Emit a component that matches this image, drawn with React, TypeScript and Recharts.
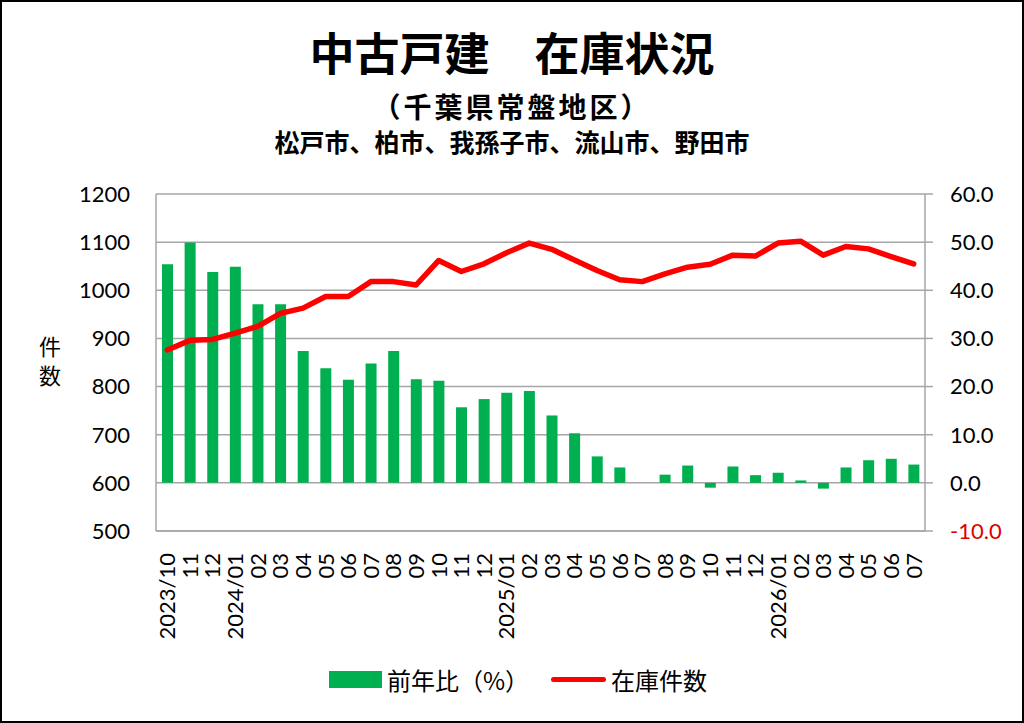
import {
  Bar,
  CartesianGrid,
  ComposedChart,
  Legend,
  Line,
  XAxis,
  YAxis,
} from "recharts";

const months = [
  "2023/10", "2023/11", "2023/12",
  "2024/01", "2024/02", "2024/03", "2024/04", "2024/05", "2024/06",
  "2024/07", "2024/08", "2024/09", "2024/10", "2024/11", "2024/12",
  "2025/01", "2025/02", "2025/03", "2025/04", "2025/05", "2025/06",
  "2025/07", "2025/08", "2025/09", "2025/10", "2025/11", "2025/12",
  "2026/01", "2026/02", "2026/03", "2026/04", "2026/05", "2026/06", "2026/07",
];

const tickLabels = [
  "2023/10", "11", "12",
  "2024/01", "02", "03", "04", "05", "06", "07", "08", "09", "10", "11", "12",
  "2025/01", "02", "03", "04", "05", "06", "07", "08", "09", "10", "11", "12",
  "2026/01", "02", "03", "04", "05", "06", "07",
];

// 前年比(%)
const yoy = [
  45.4, 49.9, 43.8, 44.9, 37.1, 37.1, 27.4, 23.8, 21.4, 24.8, 27.4, 21.5,
  21.2, 15.7, 17.4, 18.7, 19.1, 14.0, 10.3, 5.5, 3.2, 0, 1.7, 3.6, -1.0,
  3.4, 1.6, 2.1, 0.5, -1.2, 3.2, 4.7, 5.0, 3.8,
];

// 在庫件数
const inventory = [
  876, 896, 898, 911, 925, 952, 963, 987, 987, 1018, 1018, 1011, 1062,
  1039, 1055, 1078, 1098, 1085, 1063, 1041, 1022, 1018, 1034, 1048, 1054,
  1073, 1071, 1098, 1102, 1073, 1091, 1086, 1070, 1055,
];

const leftTicks = [500, 600, 700, 800, 900, 1000, 1100, 1200];
const rightTicks = [-10, 0, 10, 20, 30, 40, 50, 60];

const data = months.map((m, i) => ({
  month: m,
  label: tickLabels[i],
  yoy: yoy[i],
  inventory: inventory[i],
}));

const GREEN = "#00B050";
const RED = "#FF0000";
const GRID = "#A6A6A6";
const NUM_FONT = "Lato, 'Noto Sans', sans-serif";
const JP_FONT = "'Noto Sans CJK JP', sans-serif";

function MonthTick(props: any) {
  const { x, y, index } = props;
  return (
    <text
      x={x}
      y={y + 14}
      transform={`rotate(-90, ${x}, ${y + 14})`}
      textAnchor="end"
      dy="0.36em"
      fontSize={22}
      fontFamily={NUM_FONT}
      fill="#000"
    >
      {tickLabels[index]}
    </text>
  );
}

function RightTick(props: any) {
  const { x, y, payload } = props;
  const v = payload.value as number;
  return (
    <text
      x={x}
      y={y}
      dy="0.36em"
      textAnchor="start"
      fontSize={22}
      fontFamily={NUM_FONT}
      fill={v < 0 ? "#E00000" : "#000"}
    >
      {v.toFixed(1)}
    </text>
  );
}

function AxisTitle() {
  return (
    <g fontSize={22} fontFamily={JP_FONT} fill="#000">
      <text x={50} y={355} textAnchor="middle">件</text>
      <text x={50} y={384} textAnchor="middle">数</text>
    </g>
  );
}

function LegendBox() {
  return (
    <div
      style={{
        display: "flex",
        justifyContent: "center",
        alignItems: "center",
        height: 34,
        fontFamily: JP_FONT,
        fontSize: 24,
        color: "#000",
      }}
    >
      <span
        style={{ display: "inline-block", width: 53, height: 17, background: GREEN, marginRight: 5 }}
      />
      <span>前年比（%）</span>
      <span
        style={{
          display: "inline-block",
          width: 55,
          height: 5,
          background: RED,
          borderRadius: 3,
          marginLeft: 22,
          marginRight: 5,
        }}
      />
      <span>在庫件数</span>
    </div>
  );
}

export default function App() {
  return (
    <div style={{ position: "relative", width: 1024, height: 723, background: "#fff" }}>
      <style>{`body{margin:0}`}</style>
      <div
        style={{
          position: "absolute",
          top: 28,
          left: 0,
          width: 1024,
          textAlign: "center",
          fontFamily: JP_FONT,
          fontWeight: 700,
          fontSize: 45,
          lineHeight: "48px",
        }}
      >
        中古戸建　在庫状況
      </div>
      <div
        style={{
          position: "absolute",
          top: 90,
          left: 0,
          width: 1024,
          textAlign: "center",
          fontFamily: JP_FONT,
          fontWeight: 700,
          fontSize: 28,
          letterSpacing: 3,
          lineHeight: "32px",
        }}
      >
        （千葉県常盤地区）
      </div>
      <div
        style={{
          position: "absolute",
          top: 126,
          left: 0,
          width: 1024,
          textAlign: "center",
          fontFamily: JP_FONT,
          fontWeight: 700,
          fontSize: 25,
          lineHeight: "30px",
        }}
      >
        松戸市、柏市、我孫子市、流山市、野田市
      </div>
      <ComposedChart
        width={1024}
        height={723}
        data={data}
        margin={{ top: 194, right: 9, bottom: 92, left: 6 }}
        style={{ position: "absolute", top: 0, left: 0 }}
      >
        <CartesianGrid
          yAxisId="left"
          vertical={false}
          stroke={GRID}
          strokeWidth={1.5}
        />
        <XAxis
          dataKey="month"
          interval={0}
          height={100}
          tickLine={false}
          axisLine={{ stroke: GRID, strokeWidth: 1.5 }}
          tick={<MonthTick />}
        />
        <YAxis
          yAxisId="left"
          orientation="left"
          width={150}
          domain={[500, 1200]}
          ticks={leftTicks}
          tickLine={false}
          tickSize={6}
          tickMargin={20}
          axisLine={{ stroke: GRID, strokeWidth: 1.5 }}
          tick={{ fontSize: 22, fontFamily: NUM_FONT, fill: "#000" }}
          label={<AxisTitle />}
        />
        <YAxis
          yAxisId="right"
          orientation="right"
          width={90}
          domain={[-10, 60]}
          ticks={rightTicks}
          tickSize={8}
          tickMargin={17}
          tickLine={{ stroke: GRID, strokeWidth: 1.5 }}
          axisLine={{ stroke: GRID, strokeWidth: 1.5 }}
          tick={<RightTick />}
        />
        <Legend
          layout="horizontal"
          verticalAlign="middle"
          align="center"
          content={<LegendBox />}
          wrapperStyle={{ top: 662, left: 6, width: 1024 }}
        />
        <Bar
          yAxisId="right"
          dataKey="yoy"
          name="前年比（%）"
          fill={GREEN}
          barSize={11}
          isAnimationActive={false}
        />
        <Line
          yAxisId="left"
          dataKey="inventory"
          name="在庫件数"
          type="linear"
          stroke={RED}
          strokeWidth={5.5}
          strokeLinejoin="round"
          strokeLinecap="round"
          dot={false}
          isAnimationActive={false}
        />
      </ComposedChart>
      <div
        style={{
          position: "absolute",
          inset: 0,
          border: "2px solid #000",
          pointerEvents: "none",
        }}
      />
    </div>
  );
}
